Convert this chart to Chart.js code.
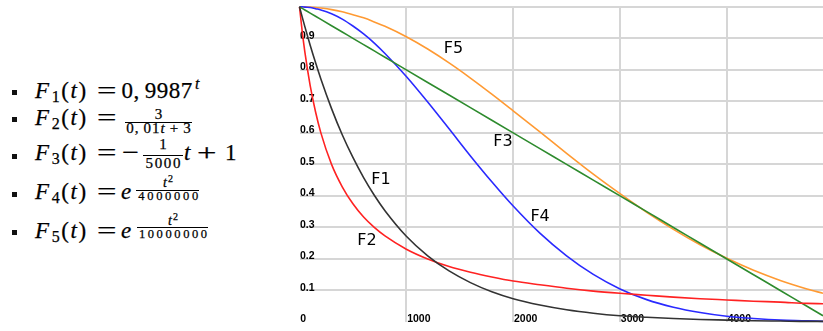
<!DOCTYPE html>
<html>
<head>
<meta charset="utf-8">
<script src="https://cdn.jsdelivr.net/npm/chart.js@4"></script>
<style>
  html, body { margin: 0; padding: 0; background: #fff; }
  #page { position: relative; width: 823px; height: 331px; overflow: hidden; }
  #formulas { position: absolute; left: 0; top: 0; width: 290px; height: 331px;
    font-family: "Liberation Serif", "DejaVu Serif", serif; color: #000;
    -webkit-text-stroke: 0.25px #000; }
  #formulas span { position: absolute; white-space: nowrap; }
  #formulas .bullet { position: absolute; width: 5px; height: 5px; background: #111; }
  #formulas .bar { position: absolute; height: 1px; background: #000; }
  #chart { position: absolute; left: 290px; top: 0; }
</style>
</head>
<body>
<div id="page">
  <div id="formulas"></div>
  <canvas id="chart" width="533" height="331"></canvas>
</div>
<script>
/* formulas on the left, chart of the five decay curves on the right */

// sample points along t and the value of each curve there
const tValues = [0, 25, 50, 100, 150, 200, 300, 400, 500, 600, 700, 800, 1000, 1200, 1400,
    1600, 1800, 2000, 2250, 2500, 2750, 3000, 3250, 3500, 3750, 4000, 4250, 4500, 4750, 4900];
const f1 = [1, 0.968, 0.937, 0.878, 0.823, 0.771, 0.677, 0.594, 0.522, 0.458, 0.402, 0.353, 0.272, 0.210, 0.162,
    0.125, 0.096, 0.074, 0.054, 0.039, 0.028, 0.020, 0.015, 0.011, 0.008, 0.006, 0.004, 0.003, 0.002, 0.002];
const f2 = [1, 0.923, 0.857, 0.75, 0.667, 0.6, 0.5, 0.429, 0.375, 0.333, 0.3, 0.273, 0.231, 0.2, 0.176,
    0.158, 0.143, 0.130, 0.118, 0.107, 0.098, 0.091, 0.085, 0.079, 0.074, 0.070, 0.066, 0.063, 0.059, 0.058];
const f3 = [1, 0.995, 0.99, 0.98, 0.97, 0.96, 0.94, 0.92, 0.9, 0.88, 0.86, 0.84, 0.8, 0.76, 0.72,
    0.68, 0.64, 0.6, 0.55, 0.5, 0.45, 0.4, 0.35, 0.3, 0.25, 0.2, 0.15, 0.1, 0.05, 0.02];
const f4 = [1, 1, 0.999, 0.998, 0.994, 0.990, 0.978, 0.961, 0.939, 0.914, 0.885, 0.852, 0.779, 0.698, 0.613,
    0.527, 0.445, 0.368, 0.282, 0.210, 0.151, 0.105, 0.071, 0.047, 0.030, 0.018, 0.011, 0.006, 0.004, 0.002];
const f5 = [1, 1, 1, 0.999, 0.998, 0.996, 0.991, 0.984, 0.975, 0.965, 0.952, 0.938, 0.905, 0.866, 0.822,
    0.774, 0.723, 0.670, 0.603, 0.535, 0.469, 0.407, 0.348, 0.294, 0.245, 0.202, 0.164, 0.132, 0.105, 0.091];

// axis ticks
const xTicks = [0, 1000, 2000, 3000, 4000];
const yTicks = [0.1, 0.2, 0.3, 0.4, 0.5, 0.6, 0.7, 0.8, 0.9, 1];

// curve names and where their labels sit (in t / value units)
const curveNames = ['F1', 'F2', 'F3', 'F4', 'F5'];
const labelT = [763, 632, 1905, 2252, 1442];
const labelV = [0.452, 0.259, 0.573, 0.333, 0.866];

const curveColors = ['#333333', '#ff2222', '#2e8b2e', '#2a2aff', '#ff9a33'];
const gridColor = '#d6d6d6';

// ---------- formula list ----------
const box = document.getElementById('formulas');

// places a piece of text with its baseline at y = base
const put = (html, x, base, size, extra) => {
    const s = document.createElement('span');
    s.innerHTML = html;
    s.style.cssText = `left:${x}px;top:${base - size * 0.84}px;font-size:${size}px;line-height:${size}px;` + (extra || '');
    box.appendChild(s);
    return s;
};

// same, but centred on x
const putCentred = (html, x, base, size, extra) =>
    put(html, x, base, size, 'transform:translateX(-50%);' + (extra || ''));

const bar = (x1, x2, y) => {
    const d = document.createElement('div');
    d.className = 'bar';
    d.style.cssText = `left:${x1}px;top:${y}px;width:${x2 - x1}px;`;
    box.appendChild(d);
};

const bullet = (y) => {
    const d = document.createElement('div');
    d.className = 'bullet';
    d.style.cssText = `left:12px;top:${y}px;`;
    box.appendChild(d);
};

const wide = 'transform:scaleX(1.5);transform-origin:left;';
const sub = (n) => `<span style="position:relative;top:4px;font-size:16px;margin-left:1px">${n}</span>`;
const lhs = (n, base) => {
    put(`<i>F</i>${sub(n)}(<i>t</i>)`, 35, base, 23, 'letter-spacing:1.6px;');
    put('=', 97, base, 23, wide);
};
const tSquared = '<i>t</i><span style="position:relative;top:-5px;font-size:10px;margin-left:1px">2</span>';

// F1
bullet(89.5);
lhs(1, 98);
put('0,&thinsp;9987', 121.5, 98, 23, 'letter-spacing:0.5px;');
put('<i>t</i>', 195, 89, 16);

// F2
bullet(117);
lhs(2, 125);
putCentred('3', 158.5, 119.3, 15);
bar(125, 192, 122);
putCentred('0,&thinsp;01<i>t</i>&thinsp;+&thinsp;3', 159, 133.3, 15, 'letter-spacing:1px;');

// F3
bullet(153.5);
lhs(3, 160);
put('&minus;', 122, 160, 23, 'transform:scaleX(1.3);transform-origin:left;');
putCentred('1', 163, 150, 15);
bar(143, 183, 155);
putCentred('5000', 163.8, 168.3, 15, 'letter-spacing:1.6px;');
put('<i>t</i>', 184, 160, 23);
put('+', 197, 160, 23, wide);
put('1', 225, 160, 23);

// F4
bullet(192);
lhs(4, 199.5);
put('<i>e</i>', 121, 199.5, 23);
putCentred(tSquared, 168, 187.5, 14);
bar(136, 199, 189.5);
putCentred('4000000', 169.6, 200, 12.5, 'letter-spacing:2.7px;');

// F5
bullet(230);
lhs(5, 238);
put('<i>e</i>', 121, 238, 23);
putCentred(tSquared, 173, 225.5, 14);
bar(137, 208, 227);
putCentred('10000000', 174.3, 238, 12.5, 'letter-spacing:2.6px;');

// ---------- chart ----------
const series = [f1, f2, f3, f4, f5];

const toPoints = (values) => values.map((v, i) => ({ x: tValues[i], y: v }));

// writes F1..F5 next to their curves
const curveLabels = {
    id: 'curveLabels',
    afterDatasetsDraw(chart) {
        const { ctx, scales } = chart;
        ctx.save();
        ctx.font = '16px "DejaVu Sans", sans-serif';
        ctx.fillStyle = '#000';
        ctx.textAlign = 'center';
        ctx.textBaseline = 'middle';
        curveNames.forEach((name, i) => {
            ctx.fillText(name, scales.x.getPixelForValue(labelT[i]), scales.y.getPixelForValue(labelV[i]));
        });
        ctx.restore();
    }
};

const tickFont = { family: '"Liberation Sans", Arial, sans-serif', size: 10.5, weight: 'bold' };

new Chart(document.getElementById('chart'), {
    type: 'line',
    data: {
        datasets: series.map((values, i) => ({
            label: curveNames[i],
            data: toPoints(values),
            borderColor: curveColors[i],
            borderWidth: 1.6,
            pointRadius: 0,
            cubicInterpolationMode: 'monotone',
            clip: 4
        }))
    },
    options: {
        responsive: false,
        animation: false,
        layout: { padding: { left: 9.5, top: 1.2, right: 0, bottom: 0 } },
        plugins: {
            legend: { display: false },
            tooltip: { enabled: false }
        },
        scales: {
            x: {
                type: 'linear',
                min: 0,
                max: 4900,
                border: { display: false },
                grid: {
                    color: (c) => (c.tick && c.tick.value === 0 ? 'rgba(0,0,0,0)' : gridColor),
                    lineWidth: 2,
                    drawTicks: false
                },
                afterBuildTicks: (scale) => { scale.ticks = xTicks.map((v) => ({ value: v })); },
                afterFit: (scale) => { scale.height = 9; },
                ticks: {
                    mirror: true,
                    align: 'start',
                    padding: -3,
                    labelOffset: 0.8,
                    autoSkip: false,
                    maxRotation: 0,
                    color: '#000',
                    font: tickFont,
                    callback: (v) => String(v)
                }
            },
            y: {
                min: 0,
                max: 1,
                border: { display: false },
                grid: { color: gridColor, lineWidth: 2, drawTicks: false },
                afterBuildTicks: (scale) => { scale.ticks = yTicks.map((v) => ({ value: v })); },
                afterFit: (scale) => { scale.width = 0; },
                ticks: {
                    mirror: true,
                    padding: 0.5,
                    labelOffset: -2.5,
                    color: '#000',
                    font: tickFont,
                    callback: (v) => (v === 1 ? '' : String(v))
                }
            }
        }
    },
    plugins: [curveLabels]
});
</script>
</body>
</html>
